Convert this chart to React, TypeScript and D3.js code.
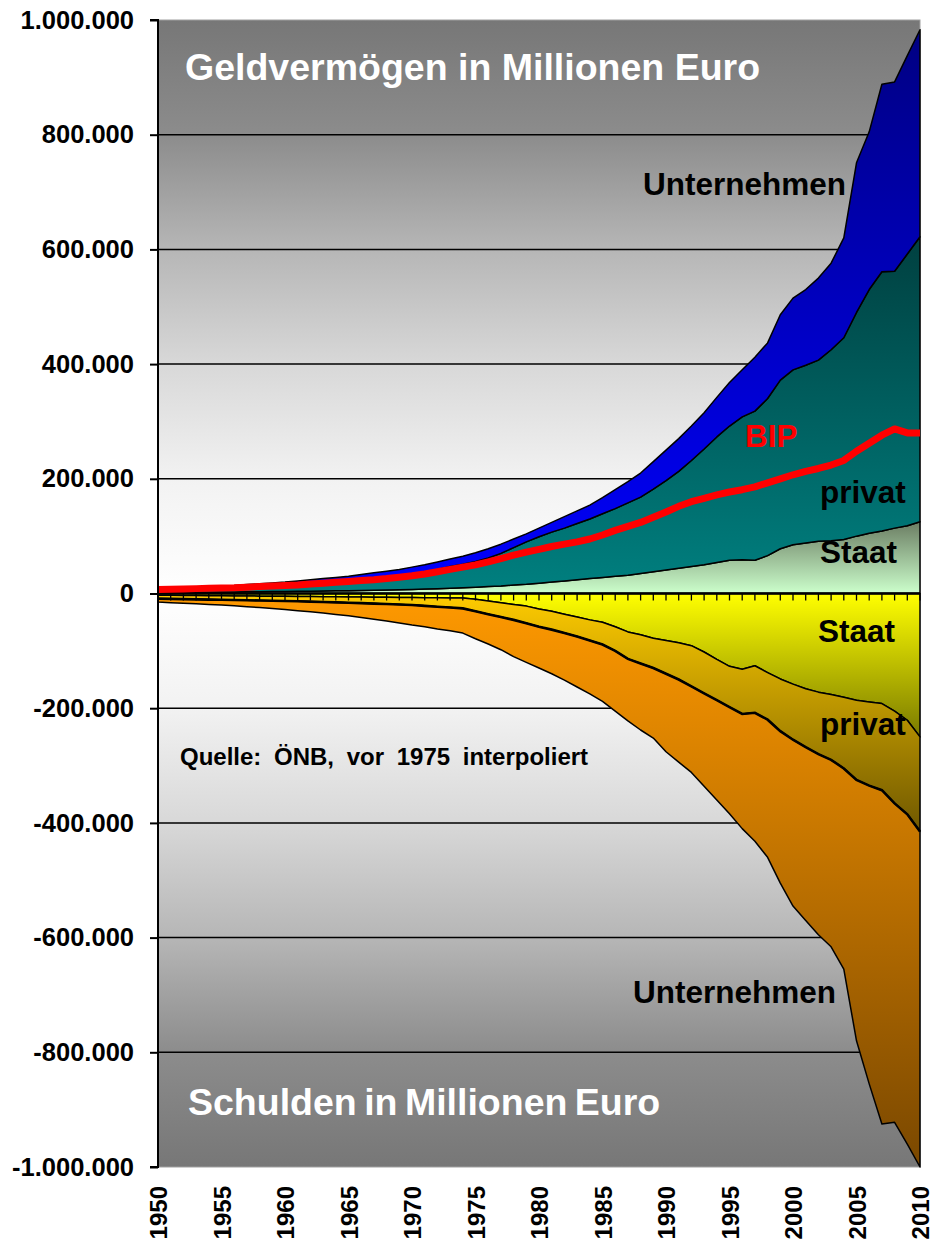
import React, { useEffect, useRef } from "react";
import * as d3 from "d3";

// Geldvermögen / Schulden in Mio. Euro, Österreich (1950-1974 interpoliert)
const years = d3.range(1950, 2011);

// Geldvermögen (positive Seite)
const assetsStaat = [
  1.5, 1.7, 1.9, 2.1, 2.3, 2.5, 2.7, 2.9, 3.1, 3.3,
  3.5, 3.8, 4.1, 4.4, 4.7, 5, 5.4, 5.8, 6.2, 6.6,
  7, 7.7, 8.4, 9.2, 10, 11, 12, 13, 15, 16,
  18, 20, 22, 24, 26, 28, 30, 32, 35, 38,
  41, 44, 47, 50, 54, 58, 59, 58, 66, 78,
  85, 88, 91, 92, 94, 100, 105, 109, 114, 118,
  125,
];
const assetsPrivat = [
  4.5, 4.8, 5.1, 5.4, 5.7, 6, 6.3, 7.1, 7.9, 8.7,
  9.5, 10.2, 10.9, 12.1, 13.3, 14.5, 16.6, 18.2, 20.8, 23.4,
  27, 30.3, 33.6, 37.8, 41, 45, 50, 57, 65, 74,
  81, 87, 92, 98, 104, 111, 118, 126, 133, 144,
  156, 169, 185, 202, 219, 234, 249, 260, 274, 294,
  305, 310, 316, 333, 352, 390, 425, 452, 448, 474,
  497,
];
const assetsUnternehmen = [
  2, 2.5, 3, 3.5, 4, 4.5, 5, 5.5, 6, 6.5,
  7, 8, 9, 9.5, 10, 10.5, 11, 12, 12, 12,
  12, 12, 13, 13, 14, 15, 16, 16, 15, 14,
  15, 17, 20, 22, 24, 28, 33, 37, 42, 48,
  53, 57, 60, 63, 69, 76, 82, 94, 97, 114,
  125, 132, 143, 151, 174, 261, 275, 327, 330, 346,
  361,
];

// Schulden (negative Seite)
const debtsStaat = [
  3, 3.2, 3.4, 3.6, 3.8, 4, 4.2, 4.4, 4.6, 4.8,
  5, 5.2, 5.4, 5.6, 5.8, 6, 6.2, 6.4, 6.6, 6.8,
  7, 7.2, 7.4, 7.7, 8, 10, 13, 16, 19, 22,
  27, 31, 36, 41, 46, 50, 58, 67, 72, 78,
  82, 86, 91, 102, 115, 127, 132, 126, 138, 149,
  158, 166, 172, 176, 181, 186, 189, 192, 205, 221,
  250,
];
const debtsPrivat = [
  6, 6.2, 6.4, 6.6, 6.8, 7, 7.2, 7.4, 7.6, 7.8,
  8, 8.4, 8.8, 9.2, 9.6, 10, 10.6, 11.2, 11.8, 12.4,
  13, 14.3, 15.6, 16.8, 18, 21, 23, 25, 27, 30,
  31, 32, 33, 34, 36, 39, 42, 47, 50, 52,
  58, 64, 71, 72, 71, 71, 78, 82, 82, 91,
  97, 102, 108, 114, 124, 139, 146, 151, 161, 164,
  165,
];
const debtsUnternehmen = [
  6, 6.6, 7.2, 7.8, 8.4, 9, 10.1, 11.2, 12.3, 13.4,
  15, 16.4, 17.8, 19.2, 21.1, 23, 25.2, 27.4, 29.6, 32.3,
  35, 36.5, 39, 40.5, 43, 48, 52, 57, 64, 68,
  72, 77, 82, 88, 93, 99, 105, 108, 116, 122,
  136, 144, 150, 162, 174, 186, 200, 224, 240, 265,
  290, 302, 315, 326, 350, 455, 520, 582, 556, 575,
  585,
];

// Bruttoinlandsprodukt
const bip = [
  7, 7.5, 8, 8.5, 9, 9.5, 10, 11, 12, 13,
  14, 15, 16.5, 18, 19.5, 21, 22.5, 24, 26, 28.5,
  31, 34, 38, 42, 46, 50, 55, 61, 67, 72,
  77, 82, 86, 90, 95, 102, 110, 117, 124, 133,
  142, 152, 160, 166, 172, 177, 181, 186, 193, 200,
  207, 213, 218, 224, 232, 248, 262, 276, 287, 280,
  280,
];

const yTicks = [-1000000, -800000, -600000, -400000, -200000, 0, 200000, 400000, 600000, 800000, 1000000];
const yearLabels = years.filter((y) => y % 5 === 0);

const W = 933;
const H = 1240;
const margin = { top: 20, right: 13, bottom: 73, left: 158 };
const font = "'Liberation Sans', Arial, Helvetica, sans-serif";

const de = d3.formatLocale({
  decimal: ",",
  thousands: ".",
  grouping: [3],
  currency: ["", " €"],
  minus: "-",
});

const App = () => {
  const ref = useRef<SVGSVGElement>(null);

  useEffect(() => {
    document.body.style.margin = "0";
    const svg = d3.select(ref.current);
    svg.selectAll("*").remove();

    const x = d3
      .scaleLinear()
      .domain([1950, 2010])
      .range([margin.left, W - margin.right]);
    const y = d3
      .scaleLinear()
      .domain([-1000000, 1000000])
      .range([H - margin.bottom, margin.top]);

    const defs = svg.append("defs");
    const grad = (id, y1, y2, stops) => {
      const g = defs
        .append("linearGradient")
        .attr("id", id)
        .attr("gradientUnits", "userSpaceOnUse")
        .attr("x1", 0)
        .attr("x2", 0)
        .attr("y1", y1)
        .attr("y2", y2);
      stops.forEach(([o, c]) => g.append("stop").attr("offset", o).attr("stop-color", c));
    };

    grad("bg", y(1000000), y(-1000000), [
      [0, "#777777"],
      [0.1, "#8c8c8c"],
      [0.2, "#b6b6b6"],
      [0.3, "#d8d8d8"],
      [0.4, "#f2f2f2"],
      [0.5, "#ffffff"],
      [0.6, "#f2f2f2"],
      [0.7, "#d8d8d8"],
      [0.8, "#b6b6b6"],
      [0.9, "#8c8c8c"],
      [1, "#777777"],
    ]);
    grad("aStaat", y(0), y(125000), [[0, "#ccffcc"], [1, "#6b7d63"]]);
    grad("aPrivat", y(0), y(622000), [[0, "#008080"], [1, "#004040"]]);
    grad("aUnt", y(0), y(1000000), [[0, "#0000ff"], [1, "#000080"]]);
    grad("dStaat", y(0), y(-250000), [[0, "#ffff00"], [1, "#7a7a00"]]);
    grad("dPrivat", y(0), y(-415000), [[0, "#ffcc00"], [1, "#705800"]]);
    grad("dUnt", y(0), y(-1000000), [[0, "#ff9900"], [1, "#7a4800"]]);

    // plot background
    svg
      .append("rect")
      .attr("x", x(1950))
      .attr("y", y(1000000))
      .attr("width", x(2010) - x(1950))
      .attr("height", y(-1000000) - y(1000000))
      .attr("fill", "url(#bg)")
      .attr("stroke", "#a0a0a0")
      .attr("stroke-width", 1);

    // grid
    svg
      .append("g")
      .selectAll("line")
      .data(yTicks.filter((t) => Math.abs(t) !== 1000000 && t !== 0))
      .join("line")
      .attr("x1", x(1950))
      .attr("x2", x(2010))
      .attr("y1", (d) => y(d))
      .attr("y2", (d) => y(d))
      .attr("stroke", "#000")
      .attr("stroke-width", 1.5);

    const rows = years.map((yr, i) => ({
      year: yr,
      aStaat: assetsStaat[i] * 1000,
      aPrivat: assetsPrivat[i] * 1000,
      aUnt: assetsUnternehmen[i] * 1000,
      dStaat: -debtsStaat[i] * 1000,
      dPrivat: -debtsPrivat[i] * 1000,
      dUnt: -debtsUnternehmen[i] * 1000,
      bip: bip[i] * 1000,
    }));

    const posStack = d3.stack().keys(["aStaat", "aPrivat", "aUnt"])(rows);
    const negStack = d3.stack().keys(["dStaat", "dPrivat", "dUnt"])(rows);

    const area = d3
      .area()
      .x((d) => x(d.data.year))
      .y0((d) => y(d[0]))
      .y1((d) => y(d[1]));

    svg
      .append("g")
      .selectAll("path")
      .data([...posStack, ...negStack])
      .join("path")
      .attr("d", area)
      .attr("fill", (d) => `url(#${d.key})`)
      .attr("stroke", "#000")
      .attr("stroke-width", 1.5)
      .attr("stroke-linejoin", "round");

    // thicker boundary between private and corporate debts
    svg
      .append("path")
      .datum(negStack[1])
      .attr("fill", "none")
      .attr("stroke", "#000")
      .attr("stroke-width", 2.6)
      .attr(
        "d",
        d3
          .line()
          .x((d) => x(d.data.year))
          .y((d) => y(d[1]))
      );

    // zero axis with yearly ticks
    svg
      .append("line")
      .attr("x1", x(1950))
      .attr("x2", x(2010))
      .attr("y1", y(0))
      .attr("y2", y(0))
      .attr("stroke", "#000")
      .attr("stroke-width", 2.5);
    svg
      .append("g")
      .selectAll("line")
      .data(years.slice(1))
      .join("line")
      .attr("x1", (d) => x(d))
      .attr("x2", (d) => x(d))
      .attr("y1", y(0))
      .attr("y2", y(0) + 7)
      .attr("stroke", "#000")
      .attr("stroke-width", 1.3);

    // BIP
    svg
      .append("path")
      .datum(rows)
      .attr("fill", "none")
      .attr("stroke", "#ff0000")
      .attr("stroke-width", 7)
      .attr("stroke-linejoin", "round")
      .attr(
        "d",
        d3
          .line()
          .x((d) => x(d.year))
          .y((d) => y(d.bip))
      );

    // y axis
    const yAxis = svg
      .append("g")
      .attr("transform", `translate(${x(1950)},0)`)
      .call(
        d3
          .axisLeft(y)
          .tickValues(yTicks)
          .tickSize(8)
          .tickPadding(16)
          .tickFormat(de.format(",d"))
      );
    yAxis.select(".domain").attr("stroke-width", 2).attr("d", `M-8,${y(1000000)}H0V${y(-1000000)}H-8`);
    yAxis.selectAll(".tick line").attr("stroke-width", 2);
    yAxis
      .selectAll("text")
      .attr("font-family", font)
      .attr("font-weight", "bold")
      .attr("font-size", 25.5)
      .attr("fill", "#000");

    // x labels
    svg
      .append("g")
      .selectAll("text")
      .data(yearLabels)
      .join("text")
      .attr("transform", (d) => `translate(${x(d) + 9},${y(-1000000) + 19}) rotate(-90)`)
      .attr("text-anchor", "end")
      .attr("font-family", font)
      .attr("font-weight", "bold")
      .attr("font-size", 24)
      .text((d) => d);

    const label = (t, lx, ly, size, color, extra = {}) => {
      const el = svg
        .append("text")
        .attr("x", lx)
        .attr("y", ly)
        .attr("font-family", font)
        .attr("font-weight", "bold")
        .attr("font-size", size)
        .attr("fill", color)
        .text(t);
      Object.entries(extra).forEach(([k, v]) => el.attr(k, v));
    };

    label("Geldvermögen in Millionen Euro", 185, 80, 37.5, "#fff");
    label("Schulden in Millionen Euro", 188, 1115, 37.5, "#fff", { "word-spacing": -3 });
    label("Unternehmen", 643, 195, 31.5, "#000");
    label("BIP", 745, 447, 31.5, "#ff0000");
    label("privat", 820, 503, 31.5, "#000");
    label("Staat", 820, 563, 31.5, "#000");
    label("Staat", 818, 642, 31.5, "#000");
    label("privat", 820, 735, 31.5, "#000");
    label("Unternehmen", 633, 1003, 31.5, "#000");
    label("Quelle: ÖNB, vor 1975 interpoliert", 180, 765, 24, "#000", { "word-spacing": 6 });
  }, []);

  return <svg ref={ref} width={W} height={H} style={{ display: "block" }} />;
};

export default App;
